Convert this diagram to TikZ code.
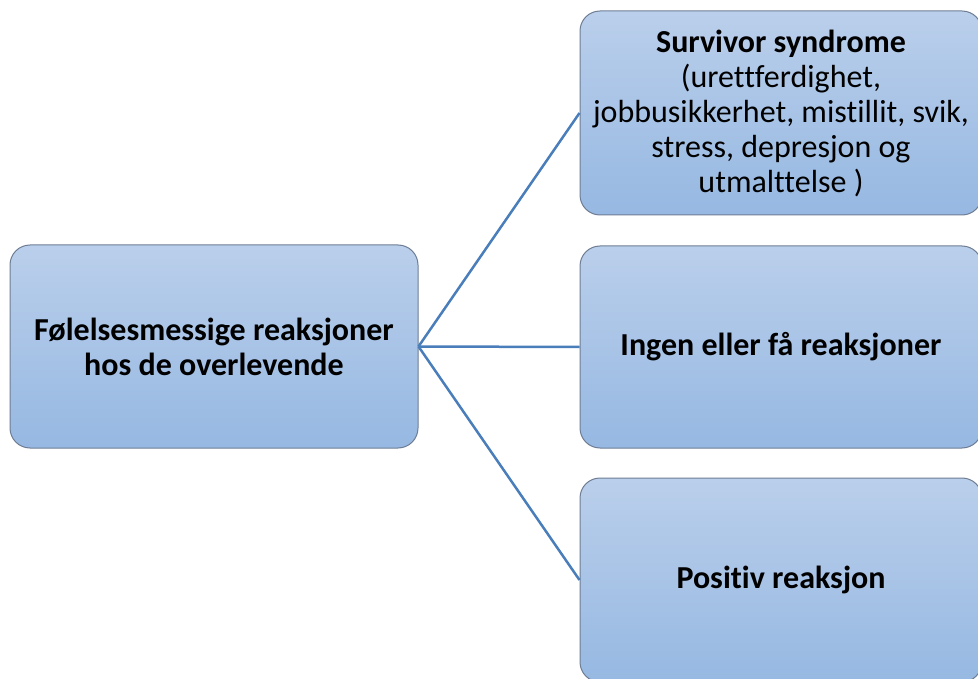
\documentclass[tikz,border=0pt]{standalone}
\usepackage{fontspec}
\setmainfont[Ligatures={NoCommon}]{Carlito}
\definecolor{boxtop}{RGB}{186,207,235}
\definecolor{boxbot}{RGB}{150,184,226}
\definecolor{boxedge}{RGB}{110,125,148}
\definecolor{linkc}{RGB}{74,126,187}
\begin{document}
\begin{tikzpicture}[x=1pt,y=-1pt,
  card/.style={rectangle, rounded corners=20pt, draw=boxedge, line width=1pt,
    top color=boxtop, bottom color=boxbot, align=center, text=black,
    inner sep=0pt, font=\fontsize{32}{35}\selectfont},
  link/.style={draw=linkc, line width=2.5pt}]
\useasboundingbox (0,0) rectangle (978,679);
\clip (0,0) rectangle (978,679);
\node[card, minimum width=408pt, minimum height=203pt] (src) at (214,346.5)
  {\textbf{Følelsesmessige reaksjoner}\\\textbf{hos de overlevende}};
\node[card, minimum width=402pt, minimum height=204pt] (a) at (781,113)
  {\textbf{Survivor syndrome}\\(urettferdighet,\\jobbusikkerhet, mistillit, svik,\\stress, depresjon og\\utmalttelse )};
\node[card, minimum width=402pt, minimum height=202pt] (b) at (781,347)
  {\textbf{Ingen eller få reaksjoner}};
\node[card, minimum width=402pt, minimum height=204pt] (c) at (781,580)
  {\textbf{Positiv reaksjon}};
\draw[link] (src.east) -- (a.west);
\draw[link] (src.east) -- (b.west);
\draw[link] (src.east) -- (c.west);
\end{tikzpicture}
\end{document}
